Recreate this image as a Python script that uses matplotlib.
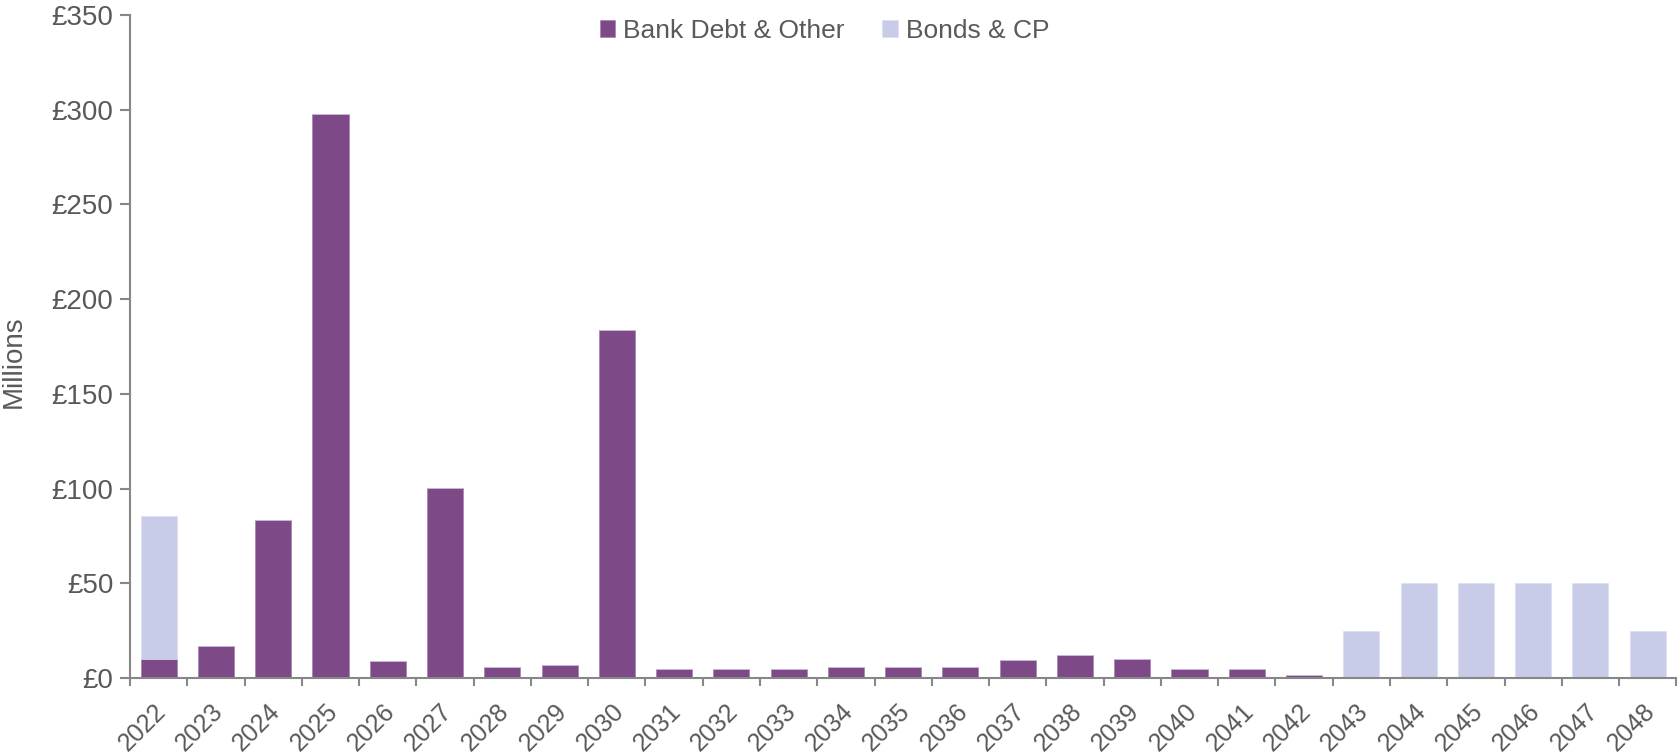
import matplotlib
matplotlib.use("Agg")
import matplotlib.pyplot as plt
from matplotlib.ticker import FuncFormatter, MultipleLocator
import numpy as np

years = [str(y) for y in range(2022, 2049)]
bank_debt = [10, 17, 83.5, 297.5, 9, 100.5, 5.8, 6.9, 183.5, 4.7,
             4.6, 4.6, 5.6, 5.6, 5.6, 9.3, 12.4, 10.2, 4.6, 4.6,
             1.5, 0, 0, 0, 0, 0, 0]
bonds_cp = [75.5, 0, 0, 0, 0, 0, 0, 0, 0, 0,
            0, 0, 0, 0, 0, 0, 0, 0, 0, 0,
            0, 25, 50, 50, 50, 50, 25]

PURPLE = "#7d4a87"
LAVENDER = "#c8cce9"
TEXT = "#595959"
AXIS = "#878787"

plt.rcParams["font.family"] = ["Liberation Sans", "DejaVu Sans"]

fig = plt.figure(figsize=(16.78, 7.53), dpi=100)
ax = fig.add_axes([0.0775, 0.0996, 0.9215, 0.8805])

x = np.arange(len(years))
w = 0.63
ax.bar(x, bank_debt, w, color=PURPLE, label="Bank Debt & Other",
       edgecolor="#a07aa8", linewidth=0.4)
ax.bar(x, bonds_cp, w, bottom=bank_debt, color=LAVENDER, label="Bonds & CP",
       edgecolor="#dadcf2", linewidth=0.4)

ax.set_xlim(-0.5, len(years) - 0.5)
ax.set_ylim(0, 350)
ax.yaxis.set_major_locator(MultipleLocator(50))
ax.yaxis.set_major_formatter(FuncFormatter(lambda v, p: f"£{v:.0f}"))

# year labels sit slightly left of each bar centre, slanted at 45 degrees
ax.set_xticks(x - 0.09)
ax.set_xticklabels(years, rotation=45, ha="right", va="top",
                   rotation_mode="anchor")
ax.set_xticks(np.arange(-0.5, len(years), 1), minor=True)
ax.tick_params(axis="x", which="major", length=0, pad=15,
               labelsize=18, labelcolor=TEXT)
ax.tick_params(axis="x", which="minor", length=6, width=1.5, color=AXIS,
               direction="out")
ax.tick_params(axis="y", length=7, width=1.5, color=AXIS, direction="out",
               labelsize=20, labelcolor=TEXT, pad=5)

for side in ("top", "right"):
    ax.spines[side].set_visible(False)
for side in ("left", "bottom"):
    ax.spines[side].set_color(AXIS)
    ax.spines[side].set_linewidth(1.5)

ax.set_ylabel("Millions", fontsize=20, color=TEXT)
ax.yaxis.set_label_coords(-0.067, 0.477)

leg = ax.legend(loc="center", bbox_to_anchor=(0.449, 0.976), ncol=2,
                frameon=False, fontsize=19, handlelength=0.6,
                handleheight=0.6, handletextpad=0.3, columnspacing=1.4)
for t in leg.get_texts():
    t.set_color(TEXT)

fig.savefig("out.png", dpi=100)
